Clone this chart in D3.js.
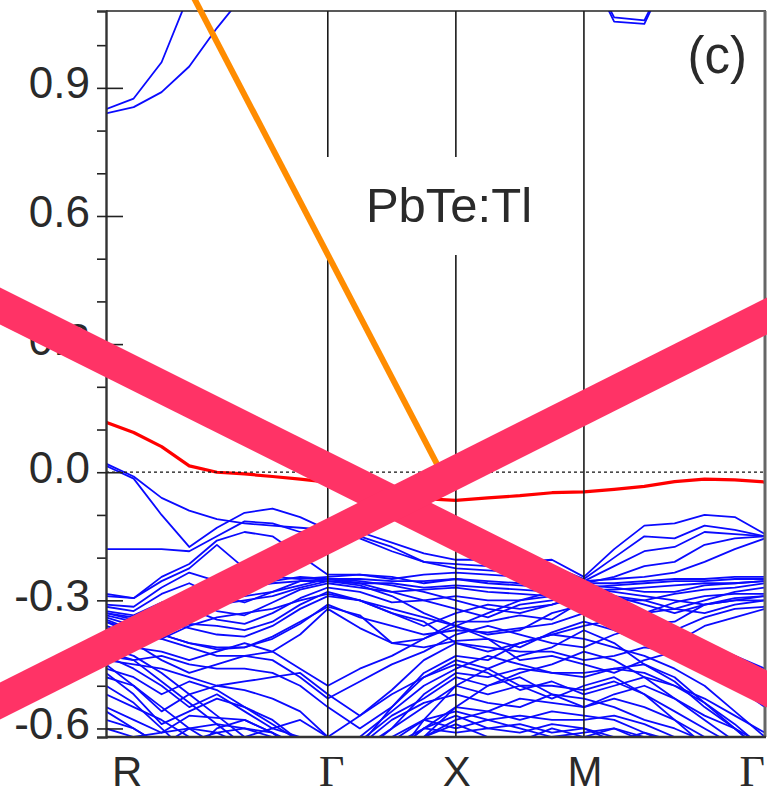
<!DOCTYPE html>
<html>
<head>
<meta charset="utf-8">
<script src="https://cdn.jsdelivr.net/npm/d3@7"></script>
<style>
  html, body { margin: 0; padding: 0; background: #fff; }
  svg { display: block; }
</style>
</head>
<body>
<svg id="chart" width="767" height="796"></svg>
<script>
// High-symmetry path R–Γ–X–M–Γ (cumulative |k| in units of 2π/a)
const kPointPos    = [0, 0.866, 1.366, 1.866, 2.573];
const kPointLabels = ["R", "Γ", "X", "M", "Γ"];

// k grid on which the band energies are sampled
const kGrid = [0, 0.108, 0.217, 0.325, 0.433, 0.541, 0.650, 0.758, 0.866,
               0.991, 1.116, 1.241, 1.366,
               1.491, 1.616, 1.741, 1.866,
               1.984, 2.102, 2.220, 2.337, 2.455, 2.573];

// Energy axis (eV)
const yMajorTicks = [-0.6, -0.3, 0.0, 0.3, 0.6, 0.9];
const yMinorTicks = [-0.5, -0.4, -0.2, -0.1, 0.1, 0.2, 0.4, 0.5, 0.7, 0.8, 1.0];

// Tl-derived impurity band
const impurityBand = [0.117, 0.093, 0.060, 0.015, 0.000, -0.004, -0.010, -0.016, -0.023,
                      -0.035, -0.050, -0.062, -0.066,
                      -0.060, -0.055, -0.048, -0.046,
                      -0.040, -0.033, -0.022, -0.016, -0.018, -0.023];

// Conduction bands entering the window from above (null = outside window)
const cond1 = [0.85, 0.875, 0.96, 1.12, null, null, null, null, null, null, null, null, null, null, null, null, null, null, null, null, null, null, null];
const cond2 = [0.84, 0.855, 0.89, 0.95, 1.04, 1.12, null, null, null, null, null, null, null, null, null, null, null, null, null, null, null, null, null];
const cond3 = [null, null, null, null, null, null, null, null, null, null, null, null, null, null, null, null, 1.20, 1.055, 1.050, 1.20, null, null, null];
const cond4 = [null, null, null, null, null, null, null, null, null, null, null, null, null, null, null, null, 1.20, 1.065, 1.058, 1.20, null, null, null];

// Host valence bands
const val01 = [0.020, -0.010, -0.060, -0.090, -0.110, -0.120, -0.125, -0.130, -0.135, -0.140, -0.165, -0.190, -0.205, -0.205, -0.210, -0.205, -0.245, -0.180, -0.125, -0.120, -0.100, -0.105, -0.145];
const val02 = [0.015, -0.015, -0.100, -0.175, -0.130, -0.095, -0.085, -0.105, -0.135, -0.155, -0.185, -0.210, -0.215, -0.220, -0.225, -0.220, -0.250, -0.200, -0.150, -0.155, -0.125, -0.135, -0.150];
const val03 = [-0.180, -0.180, -0.180, -0.185, -0.150, -0.115, -0.120, -0.140, -0.145, -0.150, -0.175, -0.210, -0.225, -0.230, -0.235, -0.225, -0.255, -0.220, -0.185, -0.175, -0.140, -0.145, -0.150];
const val04 = [-0.285, -0.295, -0.245, -0.215, -0.160, -0.140, -0.150, -0.195, -0.240, -0.240, -0.250, -0.240, -0.235, -0.240, -0.245, -0.245, -0.260, -0.245, -0.220, -0.210, -0.170, -0.155, -0.150];
const val05 = [-0.290, -0.295, -0.255, -0.225, -0.170, -0.225, -0.245, -0.250, -0.245, -0.240, -0.245, -0.260, -0.250, -0.255, -0.260, -0.260, -0.255, -0.250, -0.245, -0.235, -0.210, -0.180, -0.155];
const val06 = [-0.310, -0.315, -0.270, -0.235, -0.255, -0.270, -0.255, -0.245, -0.250, -0.250, -0.255, -0.255, -0.250, -0.260, -0.265, -0.270, -0.260, -0.260, -0.255, -0.250, -0.250, -0.245, -0.245];
const val07 = [-0.315, -0.325, -0.285, -0.260, -0.290, -0.305, -0.280, -0.255, -0.255, -0.260, -0.260, -0.270, -0.265, -0.270, -0.275, -0.280, -0.270, -0.265, -0.260, -0.255, -0.255, -0.250, -0.250];
const val08 = [-0.325, -0.335, -0.305, -0.300, -0.325, -0.335, -0.305, -0.275, -0.260, -0.270, -0.280, -0.275, -0.270, -0.280, -0.285, -0.290, -0.275, -0.275, -0.270, -0.265, -0.260, -0.260, -0.255];
const val09 = [-0.330, -0.345, -0.325, -0.320, -0.345, -0.355, -0.330, -0.295, -0.270, -0.280, -0.305, -0.300, -0.290, -0.300, -0.300, -0.290, -0.280, -0.300, -0.300, -0.285, -0.275, -0.270, -0.260];
const val10 = [-0.335, -0.350, -0.350, -0.365, -0.380, -0.385, -0.360, -0.320, -0.290, -0.300, -0.330, -0.360, -0.330, -0.310, -0.320, -0.310, -0.290, -0.310, -0.330, -0.305, -0.290, -0.285, -0.285];
const val11 = [-0.340, -0.360, -0.380, -0.400, -0.410, -0.410, -0.385, -0.350, -0.315, -0.335, -0.400, -0.390, -0.350, -0.350, -0.335, -0.345, -0.300, -0.325, -0.355, -0.350, -0.310, -0.295, -0.290];
const val12 = [-0.345, -0.370, -0.380, -0.400, -0.415, -0.410, -0.390, -0.355, -0.310, -0.340, -0.360, -0.380, -0.370, -0.375, -0.365, -0.355, -0.330, -0.350, -0.380, -0.370, -0.340, -0.320, -0.315];
const val13 = [-0.350, -0.380, -0.390, -0.410, -0.430, -0.430, -0.420, -0.380, -0.320, -0.365, -0.400, -0.410, -0.395, -0.390, -0.410, -0.375, -0.350, -0.370, -0.400, -0.400, -0.360, -0.340, -0.320];
const val14 = [-0.360, -0.380, -0.360, -0.330, -0.300, -0.290, -0.280, -0.265, -0.250, -0.260, -0.280, -0.300, -0.320, -0.340, -0.310, -0.300, -0.265, -0.270, -0.280, -0.280, -0.265, -0.260, -0.255];
const val15 = [-0.365, -0.385, -0.370, -0.345, -0.310, -0.300, -0.290, -0.270, -0.255, -0.265, -0.290, -0.330, -0.360, -0.380, -0.370, -0.330, -0.310, -0.290, -0.300, -0.320, -0.300, -0.280, -0.270];
const val16 = [-0.380, -0.400, -0.380, -0.355, -0.360, -0.370, -0.350, -0.310, -0.280, -0.300, -0.330, -0.350, -0.400, -0.420, -0.400, -0.380, -0.360, -0.345, -0.330, -0.320, -0.330, -0.310, -0.300];
const val17 = [-0.410, -0.430, -0.470, -0.520, -0.570, -0.620, -0.680, -0.720, -0.760, -0.720, -0.660, -0.600, -0.550, -0.500, -0.470, -0.450, -0.420, -0.440, -0.480, -0.530, -0.580, -0.630, -0.680];
const val18 = [-0.420, -0.440, -0.490, -0.540, -0.590, -0.640, -0.700, -0.740, -0.780, -0.740, -0.680, -0.580, -0.500, -0.460, -0.430, -0.410, -0.370, -0.400, -0.450, -0.490, -0.550, -0.600, -0.660];
const val19 = [-0.430, -0.440, -0.430, -0.450, -0.460, -0.460, -0.470, -0.500, -0.550, -0.600, -0.550, -0.470, -0.430, -0.440, -0.400, -0.380, -0.390, -0.410, -0.430, -0.460, -0.500, -0.560, -0.620];
const val20 = [-0.440, -0.450, -0.460, -0.480, -0.500, -0.490, -0.480, -0.470, -0.520, -0.570, -0.510, -0.440, -0.400, -0.410, -0.420, -0.420, -0.440, -0.430, -0.410, -0.420, -0.450, -0.500, -0.550];
const val21 = [-0.450, -0.500, -0.560, -0.520, -0.500, -0.510, -0.530, -0.560, -0.620, -0.650, -0.600, -0.520, -0.470, -0.480, -0.460, -0.470, -0.470, -0.460, -0.470, -0.500, -0.540, -0.590, -0.650];
const val22 = [-0.470, -0.520, -0.590, -0.560, -0.530, -0.550, -0.580, -0.630, -0.680, -0.660, -0.600, -0.550, -0.500, -0.520, -0.500, -0.500, -0.510, -0.490, -0.520, -0.560, -0.600, -0.640, -0.700];
const val23 = [-0.480, -0.500, -0.550, -0.600, -0.640, -0.680, -0.720, -0.760, -0.800, -0.760, -0.700, -0.620, -0.550, -0.560, -0.530, -0.540, -0.550, -0.530, -0.550, -0.580, -0.620, -0.670, -0.720];
const val24 = [-0.500, -0.540, -0.600, -0.660, -0.600, -0.580, -0.610, -0.660, -0.720, -0.680, -0.630, -0.580, -0.560, -0.580, -0.570, -0.580, -0.580, -0.570, -0.590, -0.620, -0.650, -0.700, -0.750];
const val25 = [-0.550, -0.580, -0.610, -0.570, -0.575, -0.580, -0.610, -0.650, -0.700, -0.700, -0.640, -0.600, -0.610, -0.600, -0.590, -0.610, -0.600, -0.620, -0.640, -0.660, -0.700, -0.740, -0.800];
const val26 = [-0.580, -0.600, -0.640, -0.600, -0.590, -0.600, -0.620, -0.640, -0.680, -0.720, -0.680, -0.620, -0.590, -0.620, -0.630, -0.600, -0.620, -0.600, -0.630, -0.660, -0.700, -0.750, -0.800];
const val27 = [-0.390, -0.400, -0.440, -0.470, -0.450, -0.430, -0.440, -0.480, -0.530, -0.490, -0.450, -0.420, -0.380, -0.360, -0.380, -0.400, -0.410, -0.380, -0.360, -0.370, -0.400, -0.430, -0.460];
const val28 = [-0.400, -0.410, -0.420, -0.440, -0.420, -0.400, -0.420, -0.460, -0.500, -0.460, -0.430, -0.390, -0.360, -0.390, -0.440, -0.430, -0.450, -0.470, -0.440, -0.420, -0.410, -0.440, -0.480];
const val29 = [-0.430, -0.460, -0.500, -0.550, -0.520, -0.560, -0.600, -0.580, -0.620, -0.570, -0.520, -0.480, -0.450, -0.470, -0.510, -0.490, -0.520, -0.500, -0.480, -0.500, -0.530, -0.570, -0.610];
const val30 = [-0.460, -0.480, -0.520, -0.490, -0.510, -0.550, -0.590, -0.630, -0.670, -0.630, -0.570, -0.530, -0.480, -0.500, -0.480, -0.520, -0.550, -0.520, -0.500, -0.530, -0.570, -0.600, -0.640];
const val31 = [-0.520, -0.550, -0.580, -0.620, -0.660, -0.620, -0.600, -0.620, -0.660, -0.640, -0.580, -0.540, -0.520, -0.540, -0.550, -0.520, -0.530, -0.550, -0.580, -0.600, -0.630, -0.660, -0.700];
const val32 = [-0.560, -0.600, -0.640, -0.620, -0.630, -0.660, -0.700, -0.720, -0.740, -0.700, -0.660, -0.620, -0.580, -0.560, -0.580, -0.560, -0.570, -0.580, -0.610, -0.640, -0.680, -0.720, -0.760];
const val33 = [-0.600, -0.620, -0.610, -0.600, -0.610, -0.640, -0.670, -0.700, -0.740, -0.720, -0.660, -0.600, -0.570, -0.600, -0.610, -0.590, -0.600, -0.630, -0.610, -0.630, -0.660, -0.700, -0.740];
const val34 = [-0.620, -0.640, -0.650, -0.630, -0.610, -0.600, -0.610, -0.640, -0.690, -0.660, -0.620, -0.580, -0.600, -0.580, -0.600, -0.620, -0.610, -0.600, -0.620, -0.650, -0.690, -0.730, -0.770];
const val35 = [-0.700, -0.700, -0.700, -0.680, -0.660, -0.660, -0.680, -0.700, -0.720, -0.640, -0.550, -0.480, -0.440, -0.460, -0.500, -0.530, -0.500, -0.480, -0.520, -0.580, -0.640, -0.700, -0.750];
const val36 = [-0.720, -0.720, -0.700, -0.670, -0.640, -0.630, -0.650, -0.680, -0.720, -0.620, -0.560, -0.500, -0.460, -0.430, -0.450, -0.470, -0.480, -0.460, -0.450, -0.480, -0.540, -0.600, -0.660];
const val37 = [-0.350, -0.370, -0.390, -0.360, -0.340, -0.330, -0.320, -0.300, -0.285, -0.300, -0.320, -0.340, -0.360, -0.330, -0.300, -0.280, -0.270, -0.280, -0.290, -0.300, -0.310, -0.300, -0.290];
const val38 = [-0.330, -0.340, -0.330, -0.310, -0.280, -0.270, -0.260, -0.255, -0.250, -0.255, -0.265, -0.280, -0.300, -0.320, -0.330, -0.310, -0.285, -0.290, -0.310, -0.330, -0.310, -0.300, -0.300];

const valenceBands = [val01, val02, val03, val04, val05, val06, val07, val08, val09, val10,
                      val11, val12, val13, val14, val15, val16, val17, val18, val19, val20,
                      val21, val22, val23, val24, val25, val26, val27, val28, val29, val30,
                      val31, val32, val33, val34, val35, val36, val37, val38];
const conductionBands = [cond1, cond2, cond3, cond4];

// Free-electron-like guide line (k, E)
const guideK = [0.33, 1.295];
const guideE = [1.126, 0.016];

// Diagonal cross drawn over the panel, as fractions of the canvas (x, y)
const strokeA = [[0, 0.3844], [1, 0.8656]];
const strokeB = [[0, 0.8807], [1, 0.3970]];

const W = 767, H = 796;
const plot = { left: 106, right: 765, top: 11, bottom: 737 };
const svg = d3.select("#chart");

const x = d3.scaleLinear().domain([kPointPos[0], kPointPos[kPointPos.length - 1]]).range([plot.left, plot.right]);
const y = d3.scaleLinear().domain([-0.62, 1.08]).range([plot.bottom, plot.top]);

svg.append("defs").append("clipPath").attr("id", "plotClip")
  .append("rect")
  .attr("x", plot.left).attr("y", plot.top)
  .attr("width", plot.right - plot.left).attr("height", plot.bottom - plot.top);

const bandLine = d3.line()
  .defined(d => d[1] !== null)
  .x(d => x(d[0]))
  .y(d => y(d[1]));

const zipK = arr => kGrid.map((k, i) => [k, arr[i]]);

const bands = svg.append("g").attr("clip-path", "url(#plotClip)");

bands.selectAll("path.val")
  .data(valenceBands.concat(conductionBands))
  .join("path")
  .attr("class", "val")
  .attr("d", d => bandLine(zipK(d)))
  .attr("fill", "none")
  .attr("stroke", "#0a0aff")
  .attr("stroke-width", 1.8)
  .attr("stroke-linejoin", "round");

bands.append("path")
  .attr("d", bandLine(zipK(impurityBand)))
  .attr("fill", "none")
  .attr("stroke", "#ff0000")
  .attr("stroke-width", 3.2)
  .attr("stroke-linejoin", "round");

// Fermi level
svg.append("line")
  .attr("x1", plot.left).attr("x2", plot.right)
  .attr("y1", y(0)).attr("y2", y(0))
  .attr("stroke", "#111").attr("stroke-width", 1.3)
  .attr("stroke-dasharray", "3,3");

// Compound label
const label = svg.append("text")
  .attr("x", 449).attr("y", 222)
  .attr("text-anchor", "middle")
  .attr("font-family", "Liberation Sans, Arial, sans-serif")
  .attr("font-size", 49)
  .attr("fill", "#2a2a2a")
  .text("PbTe:Tl");
const lb = label.node().getBBox();
const gapTop = lb.y - 21, gapBot = lb.y + lb.height + 23;

// Vertical lines at interior high-symmetry points, broken around the label
kPointPos.slice(1, -1).forEach(k => {
  const px = x(k);
  const near = px > lb.x - 40 && px < lb.x + lb.width + 40;
  const segs = near ? [[plot.top, gapTop], [gapBot, plot.bottom]] : [[plot.top, plot.bottom]];
  segs.forEach(s => {
    svg.append("line")
      .attr("x1", px).attr("x2", px).attr("y1", s[0]).attr("y2", s[1])
      .attr("stroke", "#1a1a1a").attr("stroke-width", 1.6);
  });
});

// Frame
svg.append("line").attr("x1", plot.left).attr("x2", plot.right + 1)
  .attr("y1", plot.top).attr("y2", plot.top)
  .attr("stroke", "#222").attr("stroke-width", 1.6);
svg.append("line").attr("x1", plot.right).attr("x2", plot.right)
  .attr("y1", plot.top).attr("y2", plot.bottom)
  .attr("stroke", "#666").attr("stroke-width", 3);
svg.append("line").attr("x1", plot.left).attr("x2", plot.right + 1)
  .attr("y1", plot.bottom).attr("y2", plot.bottom)
  .attr("stroke", "#333").attr("stroke-width", 2.6);

// Energy axis: minor ticks outward, major ticks crossing the axis
const yAxisMinor = d3.axisLeft(y).tickValues(yMinorTicks).tickSize(9).tickFormat("");
svg.append("g").attr("transform", `translate(${plot.left},0)`)
  .call(yAxisMinor)
  .call(g => g.select(".domain").remove())
  .call(g => g.selectAll("line").attr("stroke", "#222").attr("stroke-width", 1.6));

const yAxis = d3.axisLeft(y).tickValues(yMajorTicks).tickSize(9).tickPadding(7)
  .tickFormat(d => d.toFixed(1));
svg.append("g").attr("transform", `translate(${plot.left},0)`)
  .call(yAxis)
  .call(g => g.select(".domain").attr("stroke", "#333").attr("stroke-width", 2.4))
  .call(g => g.selectAll(".tick line").attr("x1", 17).attr("stroke", "#222").attr("stroke-width", 1.6))
  .call(g => g.selectAll(".tick text")
    .attr("font-family", "Liberation Sans, Arial, sans-serif")
    .attr("font-size", 44)
    .attr("fill", "#2a2a2a")
    .attr("dy", "0.23em"));

// k-point labels
const kLab = svg.append("g");
kPointLabels.forEach((t, i) => {
  const first = i === 0, last = i === kPointLabels.length - 1;
  const greek = t === "Γ";
  kLab.append("text")
    .attr("x", x(kPointPos[i]) + (first ? 6 : last ? 0 : (greek ? 4 : 1)))
    .attr("y", 786)
    .attr("text-anchor", first ? "start" : last ? "end" : "middle")
    .attr("font-family", greek ? "Liberation Serif, Times New Roman, serif" : "Liberation Sans, Arial, sans-serif")
    .attr("font-size", greek ? 44 : 42)
    .attr("fill", "#2a2a2a")
    .text(t);
});

// Panel tag
svg.append("text")
  .attr("x", 747).attr("y", 73)
  .attr("text-anchor", "end")
  .attr("font-family", "Liberation Sans, Arial, sans-serif")
  .attr("font-size", 51)
  .attr("fill", "#2a2a2a")
  .text("(c)");

// Guide line (extends above the frame)
svg.append("path")
  .attr("d", d3.line().x(d => x(d[0])).y(d => y(d[1]))(guideK.map((k, i) => [k, guideE[i]])))
  .attr("stroke", "#ff8c00").attr("stroke-width", 6).attr("fill", "none");

// Cross overlay
const fx = d3.scaleLinear().domain([0, 1]).range([0, W]);
const fy = d3.scaleLinear().domain([0, 1]).range([0, H]);
[strokeA, strokeB].forEach(s => {
  const slope = (s[1][1] - s[0][1]) / (s[1][0] - s[0][0]);
  const p0 = [-0.05, s[0][1] - 0.05 * slope];
  const p1 = [1.05, s[1][1] + 0.05 * slope];
  svg.append("line")
    .attr("x1", fx(p0[0])).attr("y1", fy(p0[1]))
    .attr("x2", fx(p1[0])).attr("y2", fy(p1[1]))
    .attr("stroke", "#ff3366").attr("stroke-width", 33);
});
</script>
</body>
</html>
